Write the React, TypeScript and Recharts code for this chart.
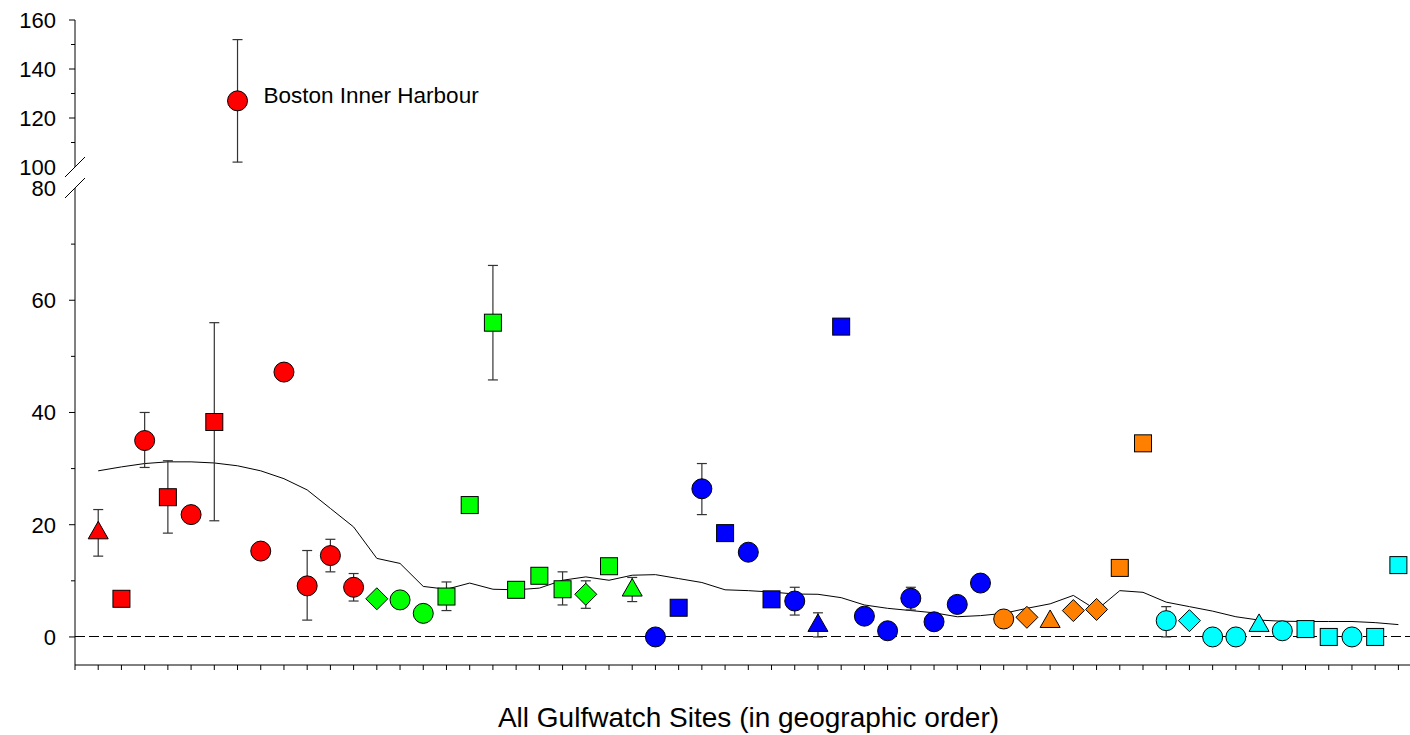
import { ComposedChart, Scatter, Line, XAxis, YAxis, ErrorBar, ReferenceLine } from 'recharts';

// sites run 1..57 in geographic order, grouped by region
const regionNames = ['MA', 'NH', 'ME', 'NB', 'NS'];
const regionSizes = [12, 12, 15, 7, 11];

// C = circle, S = square, D = diamond, T = triangle
const symbols = [
  'T', 'S', 'C', 'S', 'C', 'S', 'C', 'C', 'C', 'C', 'C', 'C',
  'D', 'C', 'C', 'S', 'S', 'S', 'S', 'S', 'S', 'D', 'S', 'T',
  'C', 'S', 'C', 'S', 'C', 'S', 'C', 'T', 'S', 'C', 'C', 'C', 'C', 'C', 'C',
  'C', 'D', 'T', 'D', 'D', 'S', 'S',
  'C', 'D', 'C', 'C', 'T', 'C', 'S', 'S', 'C', 'S', 'S',
];

const values = [
  19.0, 6.8, 35.0, 24.9, 21.8, 38.3, 127, 15.3, 47.2, 9.1, 14.5, 8.85,
  6.8, 6.6, 4.2, 7.2, 23.5, 56.0, 8.4, 10.9, 8.5, 7.6, 12.6, 8.8,
  0, 5.2, 26.4, 18.5, 15.1, 6.7, 6.4, 2.5, 55.3, 3.7, 1.1, 6.9, 2.7, 5.8, 9.6,
  3.2, 3.5, 3.2, 4.7, 4.9, 12.3, 34.5,
  2.9, 2.9, 0, 0, 2.5, 1.1, 1.4, 0, 0, 0, 12.8,
];

const errLow = [
  14.4, null, 30.2, 18.5, null, 20.7, 102, null, null, 3.0, 11.6, 6.4,
  null, null, null, 4.7, null, 45.8, null, null, 5.7, 5.1, null, 6.3,
  null, null, 21.8, null, null, null, 3.9, 0, null, null, null, 4.8, null, null, null,
  null, null, null, null, null, null, null,
  0, null, null, null, null, null, null, null, null, null, null,
];

const errHigh = [
  22.7, null, 40.0, 31.4, null, 56.0, 152, null, null, 15.4, 17.4, 11.3,
  null, null, null, 9.8, null, 66.2, null, null, 11.6, 10.0, null, 10.6,
  null, null, 30.9, null, null, null, 8.85, 4.3, null, null, null, 8.85, null, null, null,
  null, null, null, null, null, null, null,
  5.4, null, null, null, null, null, null, null, null, null, null,
];

// smoothed trend through the sites
const trend = [
  29.6, 30.3, 30.9, 31.2, 31.2, 31.0, 30.5, 29.6, 28.2, 26.2, 22.9, 19.6,
  14.0, 13.1, 9.0, 8.5, 9.6, 8.5, 8.4, 8.7, 10.1, 10.7, 10.1, 11.0,
  11.1, 10.4, 9.7, 8.4, 8.25, 8.0, 7.65, 7.6, 7.0, 5.7, 5.1, 4.7, 4.3, 3.6, 3.8,
  4.2, 5.1, 5.9, 7.4, 4.8, 8.25, 7.95,
  6.2, 5.4, 4.6, 3.6, 3.0, 2.8, 2.75, 2.75, 2.75, 2.55, 2.2,
];

const siteNotes = [{ site: 7, text: 'Boston Inner Harbour' }];

const upperTicks = [100, 110, 120, 130, 140, 150, 160];
const lowerTicks = [0, 10, 20, 30, 40, 50, 60, 70, 80];
const xTicks = Array.from({ length: 58 }, (_, i) => i);
const xTitle = 'All Gulfwatch Sites (in geographic order)';

const regionColors: Record<string, string> = {
  MA: '#ff0000',
  NH: '#00ff00',
  ME: '#0000ff',
  NB: '#ff8000',
  NS: '#00ffff',
};

const FONT = '"Liberation Sans", Arial, sans-serif';

const siteRegion = regionNames.flatMap((r, i) => Array(regionSizes[i]).fill(r));

const points = values.map((v, i) => {
  const lo = errLow[i];
  const hi = errHigh[i];
  const note = siteNotes.find((n) => n.site === i + 1);
  return {
    x: i + 1,
    y: v,
    region: siteRegion[i],
    symbol: symbols[i],
    err: lo == null || hi == null ? undefined : [v - lo, hi - v],
    note: note ? note.text : '',
  };
});

const lowerPoints = points.filter((p) => p.y <= 80);
const upperPoints = points.filter((p) => p.y >= 100);
const trendData = trend.map((v, i) => ({ x: i + 1, y: v }));

const Marker = (props: any) => {
  const { cx, cy, payload } = props;
  if (cx == null || cy == null) return <g />;
  const fill = regionColors[payload.region];
  const common = { fill, stroke: '#000', strokeWidth: 1 };
  let mark;
  if (payload.symbol === 'C') {
    mark = <circle cx={cx} cy={cy} r={10} {...common} />;
  } else if (payload.symbol === 'S') {
    mark = <rect x={cx - 8.5} y={cy - 8.5} width={17} height={17} {...common} />;
  } else if (payload.symbol === 'D') {
    mark = <polygon points={`${cx},${cy - 11} ${cx + 11},${cy} ${cx},${cy + 11} ${cx - 11},${cy}`} {...common} />;
  } else {
    mark = <polygon points={`${cx},${cy - 9} ${cx + 10},${cy + 8.5} ${cx - 10},${cy + 8.5}`} {...common} />;
  }
  return (
    <g>
      {mark}
      {payload.note && (
        <text x={cx + 26} y={cy} dy="0.1em" fontSize={22.5} fontFamily={FONT} fill="#000">
          {payload.note}
        </text>
      )}
    </g>
  );
};

const makeTick = (majors: number[], breakAt: number) => (props: any) => {
  const { x, y, payload } = props;
  const v = payload.value;
  const major = majors.includes(v);
  return (
    <g>
      {v !== breakAt && <line x1={x - (major ? 6 : 4)} x2={x} y1={y} y2={y} stroke="#000" />}
      {v === breakAt && <line x1={x - 10} y1={y + 10} x2={x + 10} y2={y - 10} stroke="#000" />}
      {major && (
        <text x={x - 19} y={y} dy="0.36em" textAnchor="end" fontSize={22} fontFamily={FONT} fill="#000">
          {v}
        </text>
      )}
    </g>
  );
};

const UpperTick = makeTick([100, 120, 140, 160], 100);
const LowerTick = makeTick([0, 20, 40, 60, 80], 80);
const NoLabel = () => null;

export default function App() {
  return (
    <div style={{ position: 'absolute', top: 0, left: 0, width: 1410, height: 735, background: '#fff', fontFamily: FONT }}>
      <div style={{ position: 'absolute', top: 0, left: 0 }}>
        <ComposedChart width={1410} height={735} margin={{ top: 188, right: 0, bottom: 0, left: 0 }}>
          <XAxis
            type="number"
            dataKey="x"
            domain={[0, 57.5]}
            ticks={xTicks}
            interval={0}
            tick={NoLabel}
            tickSize={5}
            height={70}
            stroke="#000"
            allowDataOverflow
            label={{ value: xTitle, position: 'insideBottom', offset: 8, fontSize: 28, fill: '#000', dx: 6 }}
          />
          <YAxis
            type="number"
            dataKey="y"
            domain={[-5, 80]}
            ticks={lowerTicks}
            interval={0}
            width={75}
            tickSize={0}
            tickMargin={0}
            tickLine={false}
            tick={LowerTick}
            stroke="#000"
            allowDataOverflow
          />
          <ReferenceLine y={0} stroke="#000" strokeDasharray="10 4" shapeRendering="crispEdges" />
          <Line
            data={trendData}
            dataKey="y"
            type="linear"
            stroke="#000"
            strokeWidth={1}
            dot={false}
            activeDot={false}
            isAnimationActive={false}
          />
          <Scatter data={lowerPoints} dataKey="y" shape={Marker} isAnimationActive={false}>
            <ErrorBar dataKey="err" direction="y" width={5} stroke="#333" strokeWidth={1.2} />
          </Scatter>
        </ComposedChart>
      </div>
      <div style={{ position: 'absolute', top: 0, left: 0 }}>
        <ComposedChart width={1410} height={180} margin={{ top: 20, right: 0, bottom: 13, left: 0 }}>
          <XAxis
            type="number"
            dataKey="x"
            orientation="top"
            domain={[0, 57.5]}
            height={0}
            tick={false}
            tickLine={false}
            stroke="#000"
            allowDataOverflow
          />
          <YAxis
            type="number"
            dataKey="y"
            domain={[100, 160]}
            ticks={upperTicks}
            interval={0}
            width={75}
            tickSize={0}
            tickMargin={0}
            tickLine={false}
            tick={UpperTick}
            stroke="#000"
            allowDataOverflow
          />
          <Scatter data={upperPoints} dataKey="y" shape={Marker} isAnimationActive={false}>
            <ErrorBar dataKey="err" direction="y" width={5} stroke="#333" strokeWidth={1.2} />
          </Scatter>
        </ComposedChart>
      </div>
    </div>
  );
}
